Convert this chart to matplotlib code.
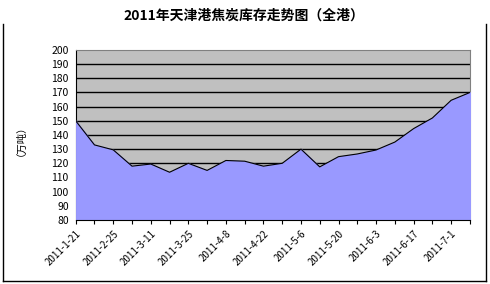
import numpy as np
import matplotlib
matplotlib.use("Agg")
import matplotlib.pyplot as plt
from matplotlib.lines import Line2D

plt.rcParams['font.family'] = ['Noto Sans CJK SC', 'DejaVu Sans']

# weekly stock (10k tonnes), tianjin port coke
dates = ['2011-1-21', '2011-1-28', '2011-2-25', '2011-3-4', '2011-3-11', '2011-3-18',
         '2011-3-25', '2011-4-1', '2011-4-8', '2011-4-15', '2011-4-22', '2011-4-29',
         '2011-5-6', '2011-5-13', '2011-5-20', '2011-5-27', '2011-6-3', '2011-6-10',
         '2011-6-17', '2011-6-24', '2011-7-1', '2011-7-8']
stock = [150, 133, 129.5, 118, 119.5, 113.7, 120, 115, 122, 121.5, 118, 120,
         130, 117.5, 124.7, 126.6, 129.4, 135, 144.5, 152, 164.5, 170]
yticks = list(range(80, 201, 10))

fig = plt.figure(figsize=(4.9, 2.84), dpi=100)
ax = fig.add_axes([0.1545, 0.2254, 0.8045, 0.5986])

x = np.arange(len(stock))
ax.set_facecolor('#C0C0C0')
ax.fill_between(x, stock, 80, color='#9999FF', zorder=3)
ax.plot(x, stock, color='black', lw=0.8, zorder=4)
for v in yticks[1:-1]:
    ax.axhline(v, color='black', lw=1.0, zorder=2)

ax.set_xlim(0, len(stock) - 1)
ax.set_ylim(80, 200)
ax.set_yticks(yticks)
ax.set_xticks(x)
ax.set_xticklabels([d if i % 2 == 0 else '' for i, d in enumerate(dates)],
                   rotation=45, ha='right', va='top', rotation_mode='anchor', fontsize=7)
ax.tick_params(axis='y', length=0, pad=5, labelsize=7.5)
ax.tick_params(axis='x', length=3, width=0.8, direction='out', pad=3)

for s in ['top', 'right']:
    ax.spines[s].set_color('#808080')
ax.spines['bottom'].set_color('black')
ax.spines['left'].set_color('black')
ax.spines['bottom'].set_zorder(5)

ax.set_ylabel('（万吨）', fontsize=7.5, labelpad=22)

fig.text(0.498, 0.944, '2011年天津港焦炭库存走势图（全港）', ha='center', va='center',
         fontsize=10, fontweight='bold')

# outer frame
fx0, fx1 = 3 / 490, 486 / 490
fy0, fy1 = 1 - 281 / 284, 1 - 24 / 284
for xs, ys in [([fx0, fx0], [fy0, fy1]), ([fx1, fx1], [fy0, fy1]), ([fx0, fx1], [fy0, fy0])]:
    fig.add_artist(Line2D(xs, ys, transform=fig.transFigure, color='black', lw=1.0))

fig.savefig('out.png', dpi=100)
